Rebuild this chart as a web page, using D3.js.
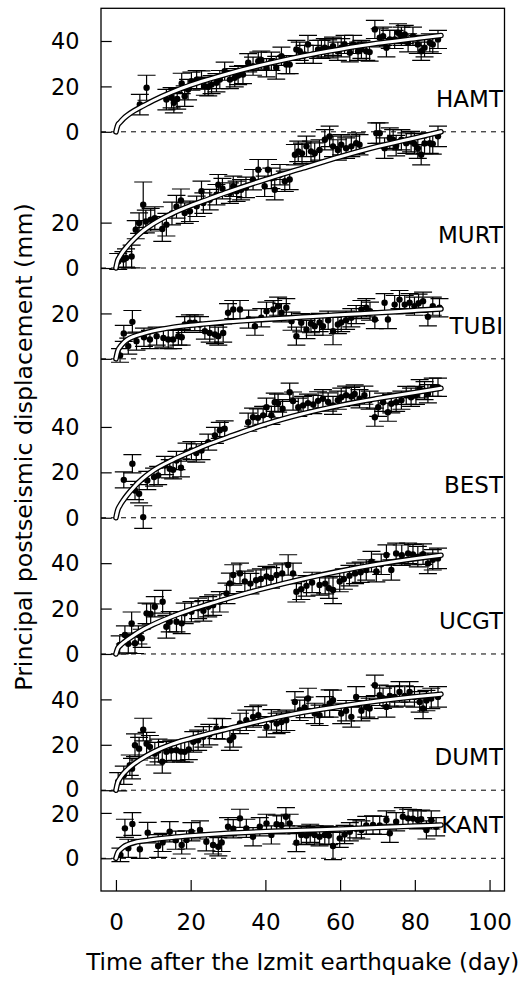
<!DOCTYPE html>
<html><head><meta charset="utf-8">
<script src="https://cdn.jsdelivr.net/npm/d3@7"></script>
<style>body{margin:0;background:#fff}svg{display:block}</style>
</head><body>
<svg id="chart" width="526" height="981"></svg>
<script>
// ---------- data ----------
const stations = ["HAMT","MURT","TUBI","BEST","UCGT","DUMT","KANT"];
const offsets  = [320, 260, 220, 150, 90, 30, 0];
const yTickLabels = [[0,20,40],[0,20],[0,20],[0,20,40],[0,20,40],[0,20,40],[0,20]];
const xTicks = [0,20,40,60,80,100];
const xTitle = "Time after the Izmit earthquake (day)";
const yTitle = "Principal postseismic displacement (mm)";

// fitted curves, read at these days
const fitDays = [0,0.5,1,2,3,5,7,10,15,20,25,30,40,50,60,70,80,87];
const fitHAMT = [0,3,4,5.8,7.2,9.4,11.2,13.8,17.5,20.6,23.2,25.6,29.8,33.4,36.4,39,41,42.4];
const fitMURT = [0,3.5,5,7.5,9.5,13,16,19.5,24,27.5,30.5,33.5,39,44,49,53.5,57.3,60];
const fitTUBI = [0,3.5,5,7,8.4,10,11,12.3,13.8,14.8,15.6,16.3,17.4,18.4,19.4,20.3,21.3,22];
const fitBEST = [0,3.5,5.2,7.8,10,13.8,17,20.8,25.3,29,32.5,35.5,41.2,45.8,49.5,52.5,55.2,57];
const fitUCGT = [0,2.5,3.5,5,6.2,8.5,10.5,13,16.5,19.5,22,24.5,29,33,36.5,39.5,42,43.5];
const fitDUMT = [0,3.5,5,7.3,9,11.8,14,16.8,20.3,22.8,25,27,31,34.3,37,39.3,41.2,42.3];
const fitKANT = [0,2.5,3.5,5,5.9,7,7.6,8.3,9.2,9.9,10.5,11,11.8,12.4,12.9,13.6,14.2,14.7];

// observations: [day, displacement (mm), error (mm)]
const obsHAMT = [[6.4,12.0,4.5],[8.2,19.4,5.5],[13.5,14.2,4.5],[14.9,15.0,4.5],[15.5,12.8,4.5],[16.4,14.5,4.5],[17.6,21.3,4.5],[18.4,15.7,4.5],[19.3,18.6,4.5],[20.2,22.3,4],[21.6,23.0,4],[22.9,22.8,4],[23.8,20.1,4],[24.7,19.8,4],[25.6,20.8,4],[26.9,21.6,4],[27.8,23.0,4],[29.1,26.7,4],[30.5,23.0,4],[31.8,23.8,4],[32.7,24.8,4],[34.0,25.2,4],[35.4,30.4,4],[36.7,28.9,4],[38.1,31.1,4],[38.9,31.6,4],[40.3,28.2,4],[41.6,31.1,4],[42.9,28.2,5],[44.3,33.3,4],[45.6,29.6,4],[46.5,29.6,4],[48.3,36.3,4],[49.2,35.5,4],[50.5,34.1,4],[51.4,38.5,4],[52.8,34.1,4],[54.1,36.3,4],[55.0,36.3,4],[55.9,37.0,4],[56.8,36.5,4],[58.1,37.7,4],[59.4,35.5,4],[60.3,37.0,4],[61.2,38.5,4],[62.6,34.8,4],[63.5,38.5,4],[64.8,35.5,4],[65.7,36.3,4],[67.0,35.5,4],[67.9,35.1,4],[69.3,45.1,4],[70.6,41.4,4],[71.5,42.1,4],[72.4,37.0,4],[73.3,40.7,4],[74.6,40.7,4],[75.5,43.6,4],[76.4,42.1,4],[77.3,42.9,4],[78.2,39.2,4],[79.5,42.1,4],[80.8,38.5,4],[81.7,35.5,4],[82.6,37.0,4],[84.0,39.2,4],[84.8,38.5,4],[86.2,40.7,4]];
const obsMURT = [[0.6,2.9,3.5],[2.0,3.7,3.5],[2.7,4.4,4],[4.2,5.1,5],[5.3,16.9,4],[6.2,19.8,4.5],[7.3,27.9,10],[8.0,20.5,5],[9.3,21.3,5],[10.4,22.0,5],[12.4,17.2,5.5],[13.5,19.1,5],[15.0,24.0,5],[16.2,27.0,5],[17.4,29.8,5],[18.4,24.2,4.5],[19.8,25.0,4.5],[21.6,27.2,4.5],[22.9,33.8,4.5],[23.4,28.6,4.5],[25.1,30.1,4.5],[26.9,32.3,4.5],[27.4,36.7,4.5],[28.5,35.0,4.5],[30.5,33.0,4.5],[31.4,36.0,4.5],[32.3,33.8,4.5],[33.5,34.5,4.5],[34.8,35.5,4.5],[36.7,38.9,4.5],[38.1,43.3,4.5],[39.8,36.0,4.5],[40.7,43.3,4.5],[41.6,39.5,4.5],[42.5,34.5,4.5],[43.9,41.1,4.5],[45.2,38.2,4.5],[46.5,39.0,4.5],[47.9,49.9,4.5],[48.8,51.4,4.5],[49.8,50.5,4.5],[51.0,53.6,4.5],[52.2,51.4,4.5],[53.2,50.6,4.5],[54.5,52.0,4.5],[55.9,56.5,4.5],[57.2,58.0,4.5],[58.1,53.6,4.5],[59.4,52.0,4.5],[60.3,54.3,4.5],[61.6,52.8,4.5],[63.0,53.6,4.5],[64.3,55.0,4.5],[65.2,54.3,4.5],[69.7,59.4,4.5],[70.6,59.4,4.5],[71.9,52.8,4.5],[73.3,57.2,4.5],[74.2,56.5,4.5],[75.0,53.9,4.5],[76.4,56.5,4.5],[77.7,55.0,4.5],[79.0,55.7,4.5],[79.9,54.7,4.5],[80.8,52.8,4.5],[81.7,49.9,4.5],[82.6,54.9,4.5],[84.0,55.0,4.5],[84.8,54.7,4.5],[86.2,58.0,4.5]];
const obsTUBI = [[1.1,1.5,3],[2.1,11.2,3.5],[3.3,5.6,3.5],[4.4,16.3,5],[5.5,7.8,4],[7.5,9.5,4],[9.1,8.5,4],[10.9,10.0,4],[12.7,9.2,4],[14.0,8.5,4],[15.3,8.5,4],[16.7,10.0,4],[17.6,9.5,3.5],[18.4,15.1,3.5],[19.8,15.9,3.5],[21.1,15.9,3.5],[22.5,15.1,3.5],[23.8,12.2,3.5],[25.1,11.4,4],[26.5,10.7,4],[27.4,10.0,4],[28.7,11.4,4],[30.0,20.3,4],[31.4,21.7,4],[33.2,21.7,4],[35.5,17.5,4],[37.2,14.4,4],[38.9,18.1,4],[40.3,21.0,4],[42.1,21.7,4],[43.4,23.2,4],[44.3,20.3,4],[45.6,22.5,4],[47.0,16.6,4],[48.3,10.0,4],[49.6,15.9,4],[51.0,12.9,4],[52.2,15.5,4],[53.2,14.4,4],[54.5,16.0,4],[55.4,14.4,4],[56.8,17.0,4],[58.1,12.2,6],[59.4,15.1,4],[60.3,16.0,4],[61.6,17.0,4],[63.0,18.1,4],[64.3,19.5,4],[65.7,21.7,4],[67.0,22.5,4],[68.0,21.0,4],[69.3,17.3,4],[71.9,24.7,4],[72.8,17.3,4],[74.6,23.9,4],[75.9,26.1,4],[77.3,23.9,4],[78.6,24.7,4],[79.9,23.2,4],[81.0,24.5,4],[82.2,25.4,4],[83.5,18.5,4],[84.8,23.2,4],[86.6,22.5,4]];
const obsBEST = [[2.1,16.7,3.5],[4.4,23.8,4],[5.1,12.0,4],[6.2,10.6,4],[7.3,0.3,5],[8.4,16.4,4],[10.2,17.9,4],[11.3,18.6,4],[13.1,23.0,4],[14.4,21.6,4],[15.3,21.1,4],[16.2,25.2,4],[17.4,22.0,4],[18.9,28.9,4],[20.2,29.6,4],[21.5,28.5,4],[22.9,29.6,4],[24.7,33.3,3.5],[26.5,36.3,3.5],[27.8,38.5,3.5],[29.1,39.2,3.5],[35.4,42.1,4],[36.7,44.3,4],[38.0,44.0,4],[39.4,45.1,4],[40.3,48.7,4],[41.6,45.1,4],[42.5,50.9,4],[43.4,50.5,4],[44.6,48.0,4],[46.5,55.3,4],[47.4,51.4,4],[48.8,48.7,4],[50.1,49.5,4],[51.4,50.5,4],[52.8,49.9,4],[54.1,51.5,4],[55.4,52.4,4],[56.8,51.0,4],[58.1,49.5,4],[59.4,51.8,4],[60.3,53.1,4],[61.6,54.0,4],[63.0,53.4,4],[63.9,54.5,4],[65.2,52.4,4],[66.5,54.0,4],[67.9,51.8,4],[69.3,44.3,4],[70.2,48.7,4],[71.5,50.9,4],[72.8,46.5,4],[73.7,50.2,4],[75.0,50.9,4],[76.4,51.8,4],[77.7,53.9,4],[79.0,53.1,4],[80.3,53.9,4],[81.3,56.8,4],[82.6,56.0,4],[83.5,54.6,4],[84.8,57.5,4],[86.2,57.5,4]];
const obsUCGT = [[1.0,4.0,4],[2.4,8.4,4],[3.3,4.5,4],[4.2,13.5,5],[5.1,4.7,4.5],[6.0,8.4,4],[6.9,6.9,4],[8.2,17.9,4.5],[9.3,17.6,4.5],[10.4,20.8,4.5],[12.5,23.0,5],[13.5,12.0,5],[14.4,14.2,4.5],[16.2,14.2,4.5],[17.6,13.5,4.5],[18.4,17.9,4.5],[20.2,18.6,4.5],[22.0,20.1,4.5],[23.4,19.0,4.5],[24.7,20.8,4.5],[26.0,21.5,4.5],[27.8,23.0,4.5],[29.6,26.7,4.5],[30.5,31.1,4.5],[31.4,34.8,4.5],[33.2,35.5,4.5],[34.5,32.0,4.5],[36.0,31.0,4.5],[37.5,32.5,4.5],[38.8,33.0,4.5],[40.3,34.1,4.5],[41.5,33.5,4.5],[43.0,34.8,4.5],[44.5,35.5,4.5],[46.1,39.2,4.5],[47.4,35.5,4.5],[48.3,27.4,4.5],[49.6,28.5,4.5],[51.0,30.0,4.5],[52.5,31.5,4.5],[54.5,30.4,4.5],[56.0,31.0,4.5],[57.0,29.0,4.5],[58.1,28.2,6],[59.9,31.9,4.5],[61.0,33.0,4.5],[62.5,34.5,4.5],[64.0,35.5,4.5],[65.5,36.0,4.5],[67.0,37.0,4.5],[68.4,40.7,4.5],[69.7,36.3,4.5],[71.0,39.5,4.5],[72.4,43.6,4.5],[73.7,37.0,4.5],[75.0,44.3,4.5],[76.5,43.5,4.5],[78.2,44.3,4.5],[79.5,43.8,4.5],[80.8,42.9,4.5],[82.2,44.0,4.5],[83.5,39.9,4.5],[84.8,41.5,4.5],[86.2,42.1,4.5]];
const obsDUMT = [[0.6,3.7,4],[2.1,6.6,4],[3.7,11.0,4.5],[4.3,9.5,4.5],[5.1,19.8,5],[6.2,18.3,5],[7.3,26.7,5],[8.2,20.5,5],[9.1,19.1,5],[10.4,16.1,5],[11.4,17.5,5],[12.4,12.5,5],[13.5,16.9,4.5],[14.8,17.5,4.5],[16.2,17.6,4.5],[17.4,17.0,4.5],[18.4,16.9,4.5],[19.5,18.0,4.5],[20.7,21.3,4.5],[22.0,22.0,4.5],[23.4,23.5,4.5],[25.0,24.5,4.5],[26.9,27.2,4.5],[28.5,27.0,4.5],[30.5,22.0,4.5],[31.4,23.5,4.5],[33.2,29.4,4.5],[34.9,30.8,4.5],[36.7,32.3,4.5],[38.1,33.0,4.5],[40.3,27.9,4.5],[41.6,31.0,4.5],[43.0,29.4,4.5],[44.3,30.0,4.5],[45.6,30.8,4.5],[47.9,38.9,4.5],[49.2,35.2,4.5],[50.5,36.5,4.5],[51.4,40.4,4.5],[53.2,33.8,4.5],[54.5,33.0,4.5],[55.9,36.7,4.5],[57.2,38.2,6],[58.1,39.6,4.5],[60.3,33.8,4.5],[61.6,35.0,4.5],[63.0,32.3,4.5],[64.3,41.1,4.5],[65.7,35.0,4.5],[67.0,36.7,4.5],[67.9,36.0,4.5],[69.3,46.2,4.5],[70.6,41.8,4.5],[71.5,40.5,4.5],[72.4,36.7,4.5],[73.3,41.5,4.5],[74.6,41.1,4.5],[75.9,43.3,4.5],[77.3,41.5,4.5],[78.6,43.3,4.5],[79.9,41.1,4.5],[81.3,38.9,4.5],[82.2,36.0,4.5],[83.1,39.5,4.5],[84.4,40.4,4.5],[86.2,41.1,4.5]];
const obsKANT = [[1.2,1.5,3],[2.4,13.2,4],[3.3,4.4,4],[4.4,15.1,5],[6.4,4.0,4],[8.5,11.3,4.5],[11.3,5.4,5],[12.5,7.0,4],[14.4,11.7,4.5],[16.0,8.0,4],[17.6,5.9,4],[18.9,8.1,4],[20.2,11.7,4],[22.5,12.5,4],[24.2,7.3,4],[26.0,5.9,4],[27.4,5.1,4],[28.3,7.0,4],[30.0,13.9,4],[31.4,13.0,4],[33.2,17.6,4],[34.9,13.2,4],[36.7,9.5,4],[38.5,13.9,4],[40.3,15.4,4],[41.6,10.3,4],[43.0,15.0,4],[44.3,14.7,4],[45.5,18.3,4],[46.5,15.4,4],[48.3,6.9,4],[49.6,10.3,4],[51.0,10.0,4],[52.0,11.0,4],[53.2,10.3,4],[54.5,9.5,4],[55.9,10.3,4],[57.0,10.0,4],[58.1,5.4,6],[59.9,8.8,4],[61.2,10.5,4],[62.6,11.7,4],[64.3,13.0,4],[65.7,12.5,4],[67.0,14.5,4],[68.8,14.7,4],[70.6,14.5,4],[72.4,16.9,4],[73.3,11.0,4],[75.0,16.1,4],[76.8,18.3,4],[78.2,17.6,4],[79.5,17.5,4],[80.8,16.9,4],[81.7,17.2,4],[83.1,12.5,4],[84.4,16.9,4],[85.7,13.9,4]];

const fits = [fitHAMT, fitMURT, fitTUBI, fitBEST, fitUCGT, fitDUMT, fitKANT];
const obs  = [obsHAMT, obsMURT, obsTUBI, obsBEST, obsUCGT, obsDUMT, obsKANT];

// ---------- drawing ----------
const FONT = "'DejaVu Sans', sans-serif";
const FS = 23;
const svg = d3.select("#chart");
const L = 101, R = 504.5, T = 8.3, B = 891;
const x = d3.scaleLinear().domain([-4, 104]).range([L, R]);
const y = d3.scaleLinear().domain([-14.4, 374.4]).range([B, T]);

// dashed zero lines
svg.append("g").selectAll("line").data(offsets).join("line")
  .attr("x1", L).attr("x2", R)
  .attr("y1", d => y(d)).attr("y2", d => y(d))
  .attr("stroke", "#000").attr("stroke-width", 1)
  .attr("stroke-dasharray", "5,5");

// error bars + points
const CAP = 9;
obs.forEach((data, i) => {
  const off = offsets[i];
  const g = svg.append("g");
  g.selectAll("path").data(data).join("path")
    .attr("d", d => {
      const cx = x(d[0]), y0 = y(off + d[1] - d[2]), y1 = y(off + d[1] + d[2]);
      return `M${cx},${y0}V${y1}M${cx - CAP},${y0}H${cx + CAP}M${cx - CAP},${y1}H${cx + CAP}`;
    })
    .attr("fill", "none").attr("stroke", "#000").attr("stroke-width", 1.2);
  g.selectAll("circle").data(data).join("circle")
    .attr("cx", d => x(d[0])).attr("cy", d => y(off + d[1]))
    .attr("r", 3.2).attr("fill", "#000");
});

// fitted curves: black outline + white core
const line = d3.line().x(d => x(d[0])).y(d => y(d[1])).curve(d3.curveMonotoneX);
fits.forEach((f, i) => {
  const pts = fitDays.map((t, j) => [t, offsets[i] + f[j]]);
  svg.append("path").attr("d", line(pts)).attr("fill", "none")
    .attr("stroke", "#000").attr("stroke-width", 5.6).attr("stroke-linecap", "round");
  svg.append("path").attr("d", line(pts)).attr("fill", "none")
    .attr("stroke", "#fff").attr("stroke-width", 3).attr("stroke-linecap", "round");
});

// frame
svg.append("rect").attr("x", L).attr("y", T).attr("width", R - L).attr("height", B - T)
  .attr("fill", "none").attr("stroke", "#000").attr("stroke-width", 1.3);

// y axis
const yTickPos = [], yTickText = [];
yTickLabels.forEach((arr, i) => arr.forEach(v => { yTickPos.push(offsets[i] + v); yTickText.push(String(v)); }));
const yAxis = d3.axisLeft(y).tickValues(yTickPos).tickFormat((d, i) => yTickText[i])
  .tickSizeInner(-10.7).tickSizeOuter(0).tickPadding(21.5);
const gy = svg.append("g").attr("transform", `translate(${L},0)`).call(yAxis);
gy.select(".domain").remove();
gy.selectAll("line").attr("stroke", "#000").attr("stroke-width", 1.2);
gy.selectAll("text").attr("font-family", FONT).attr("font-size", 22.4).attr("fill", "#000")
  .attr("dy", "0.34em");
// tight pair (DUMT 0 / KANT 20): nudge apart by a pixel so the glyph boxes do not collide
gy.selectAll(".tick").each(function(d) {
  const t = d3.select(this).select("text");
  if (d === offsets[5]) t.attr("dy", "0.30em");
  if (d === offsets[6] + 20) t.attr("dy", "0.39em");
});

// x axis
const xAxis = d3.axisBottom(x).tickValues(xTicks).tickFormat(d3.format("d"))
  .tickSizeInner(-11).tickSizeOuter(0).tickPadding(22.5);
const gx = svg.append("g").attr("transform", `translate(0,${B})`).call(xAxis);
gx.select(".domain").remove();
gx.selectAll("line").attr("stroke", "#000").attr("stroke-width", 1.2);
gx.selectAll("text").attr("font-family", FONT).attr("font-size", FS).attr("fill", "#000");

// station labels
svg.append("g").selectAll("text").data(stations).join("text")
  .attr("x", 503).attr("y", (d, i) => y(offsets[i] + 11))
  .attr("text-anchor", "end").attr("font-family", FONT).attr("font-size", FS)
  .attr("fill", "#000").text(d => d);

// axis titles
svg.append("text").attr("x", (L + R) / 2).attr("y", 969.5)
  .attr("text-anchor", "middle").attr("font-family", FONT).attr("font-size", FS)
  .attr("fill", "#000").text(xTitle);
svg.append("text").attr("transform", `translate(32,447) rotate(-90)`)
  .attr("text-anchor", "middle").attr("font-family", FONT).attr("font-size", 23.7)
  .attr("fill", "#000").text(yTitle);
</script>
</body></html>
